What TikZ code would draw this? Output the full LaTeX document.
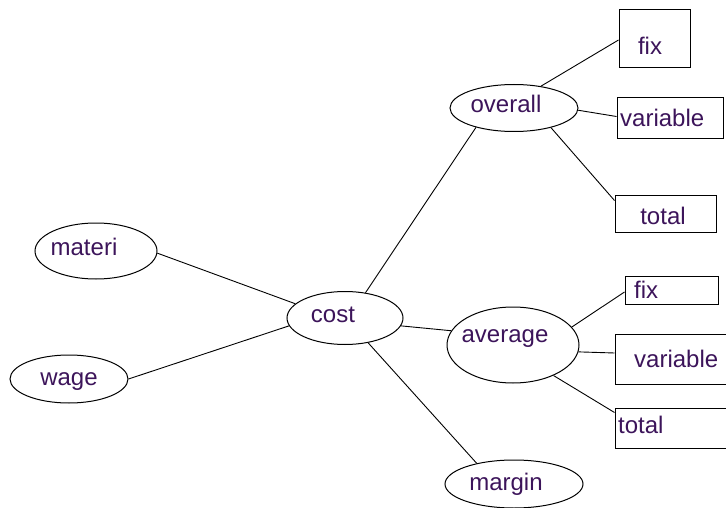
\documentclass[tikz,border=0pt]{standalone}
\usepackage{fontspec}
\setmainfont{Liberation Sans}
\usetikzlibrary{shapes.geometric,calc}
\definecolor{txt}{RGB}{60,20,90}
\tikzset{
  ell/.style={draw, ellipse, line width=1pt, inner sep=0pt, text=txt},
  box/.style={draw, rectangle, line width=1pt, inner sep=0pt, text=txt},
  lbl/.style={text=txt, inner sep=0pt},
  lnk/.style={line width=0.9pt},
}
\begin{document}
\begin{tikzpicture}[x=1pt,y=-1pt,font=\fontsize{24}{27}\selectfont]
\useasboundingbox (0,0) rectangle (726,508);
% ellipses
\node[ell, minimum width=122pt, minimum height=56pt] (materi) at (96,251) {};
\node[lbl, anchor=base] at (84,255) {materi};
\node[ell, minimum width=118pt, minimum height=48pt] (wage) at (69,379) {};
\node[lbl, anchor=base] at (69,385) {wage};
\node[ell, minimum width=116pt, minimum height=53pt] (cost) at (345,318) {};
\node[lbl, anchor=base] at (333,322) {cost};
\node[ell, minimum width=128pt, minimum height=47pt] (overall) at (514,108) {};
\node[lbl, anchor=base] at (506,113) {overall};
\node[ell, minimum width=132pt, minimum height=76pt] (average) at (513,345) {};
\node[lbl, anchor=base] at (505,342) {average};
\node[ell, minimum width=138pt, minimum height=48pt] (margin) at (514,484) {};
\node[lbl, anchor=base] at (506,490) {margin};
% boxes
\node[box, minimum width=71pt, minimum height=58pt] (fixA) at (654.5,39) {};
\node[lbl, anchor=base] at (650,55) {fix};
\node[box, minimum width=106pt, minimum height=41pt] (varA) at (670,118.5) {};
\node[lbl, anchor=base west] at (620,127) {variable};
\node[box, minimum width=101pt, minimum height=36pt] (totA) at (665.5,214) {};
\node[lbl, anchor=base] at (663,224) {total};
\node[box, minimum width=93pt, minimum height=28pt] (fixB) at (671.5,290) {};
\node[lbl, anchor=base west] at (634,298) {fix};
\node[box, minimum width=112pt, minimum height=50pt] (varB) at (671,359) {};
\node[lbl, anchor=base west] at (634,367) {variable};
\node[box, minimum width=112pt, minimum height=40pt] (totB) at (671,428) {};
\node[lbl, anchor=base west] at (618,433) {total};
% connectors
\draw[lnk] (materi.-2) -- (cost.164);
\draw[lnk] (wage.0) -- (cost.-172);
\draw[lnk] (cost.51) -- (overall.-153);
\draw[lnk] (cost.-8) -- (average.167);
\draw[lnk] (cost.-47) -- (margin.151);
\draw[lnk] (overall.39) -- ($(fixA.west)+(0,1)$);
\draw[lnk] (overall.-2) -- ($(varA.west)+(0,-2)$);
\draw[lnk] (overall.-28) -- ($(totA.north west)+(0,5)$);
\draw[lnk] (average.17) -- ($(fixB.west)+(0,2)$);
\draw[lnk] (average.-6) -- ($(varB.west)+(0,-6)$);
\draw[lnk] (average.-37) -- ($(totB.north west)+(0,5)$);
\end{tikzpicture}
\end{document}
